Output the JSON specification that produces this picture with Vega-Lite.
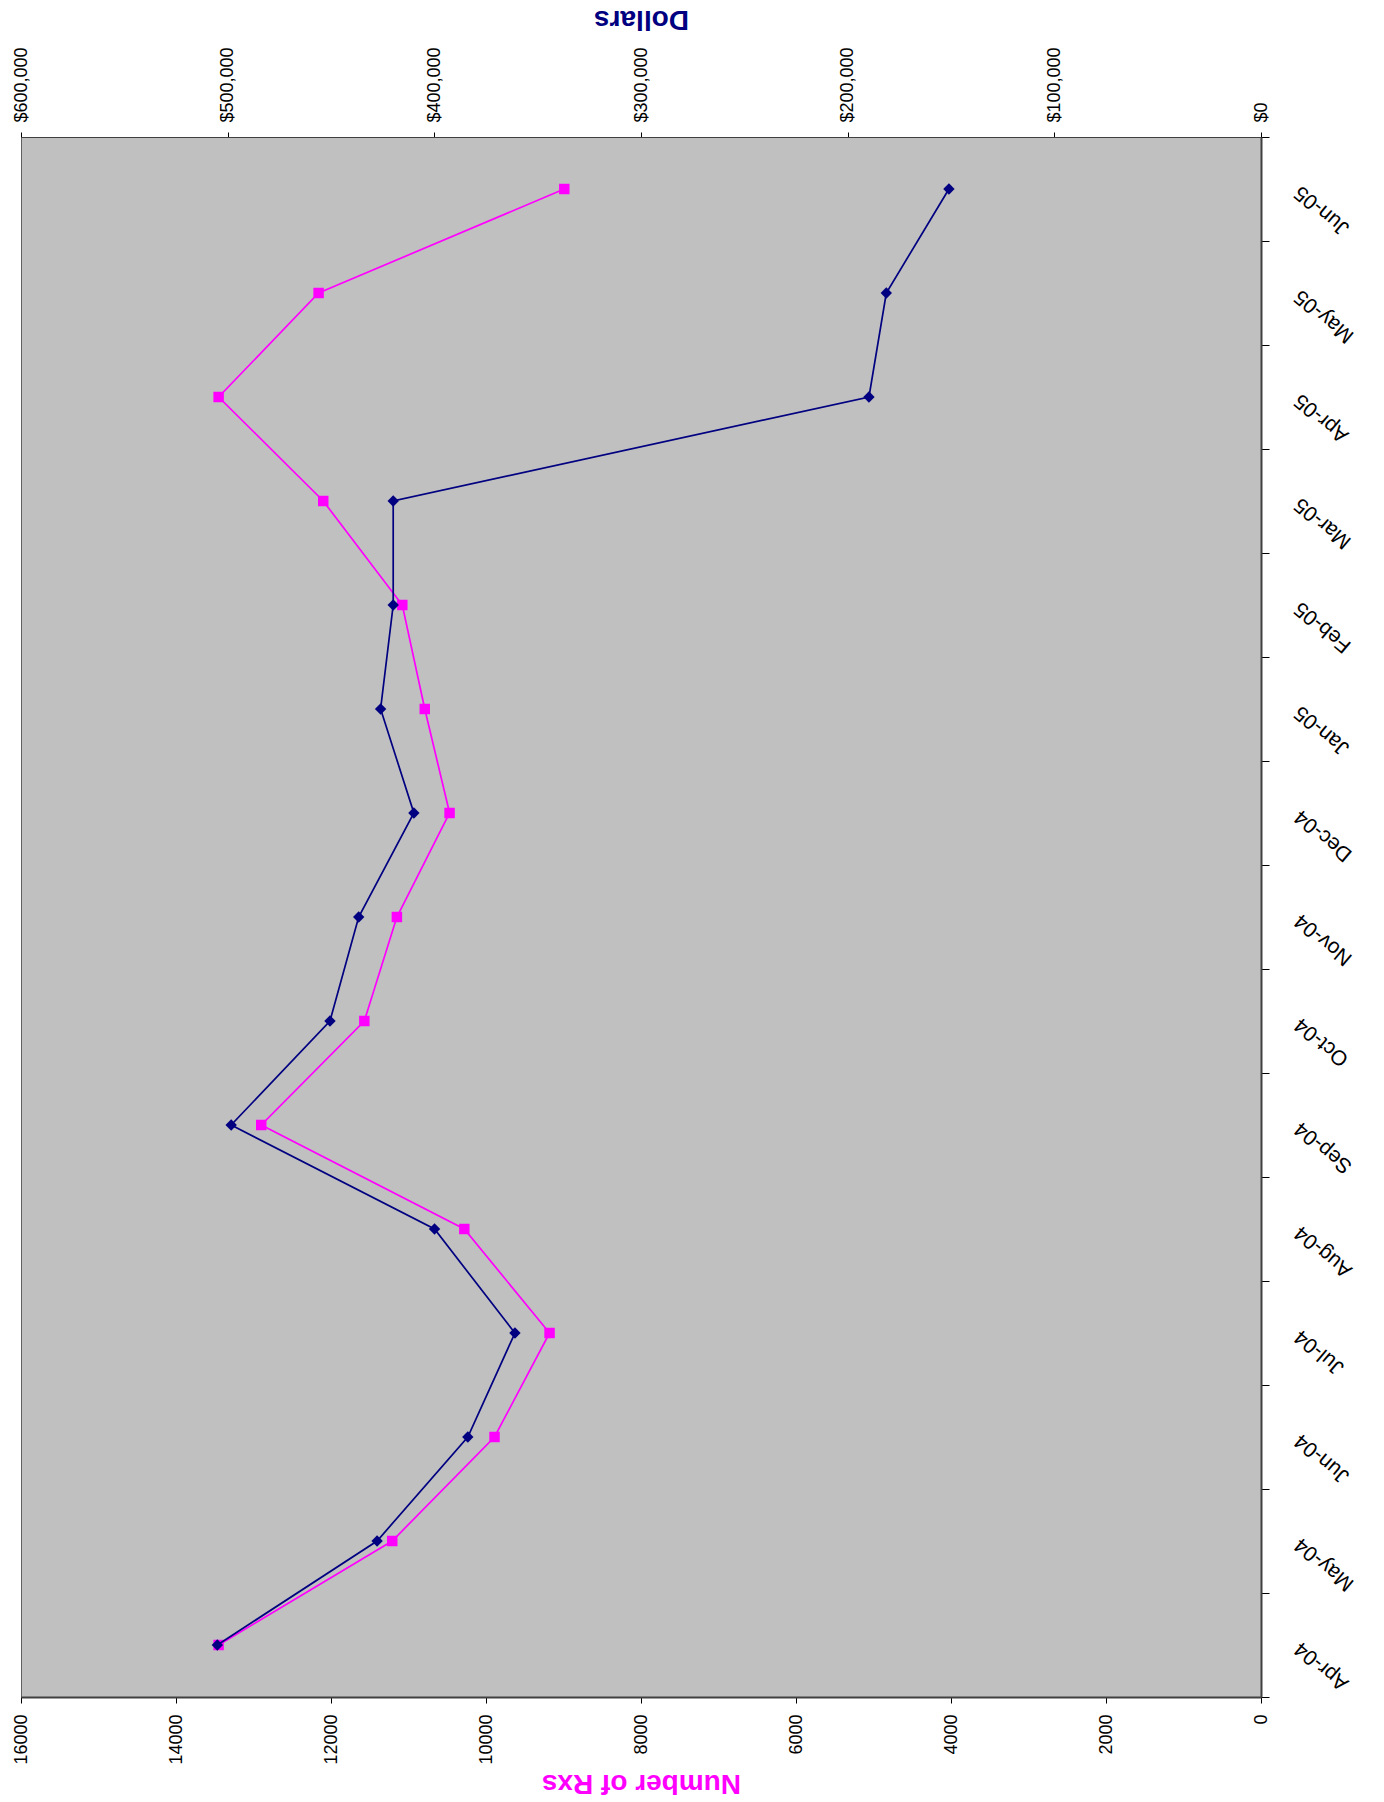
{
  "$schema": "https://vega.github.io/schema/vega-lite/v6.json",
  "width": 1240,
  "height": 1560,
  "padding": {"left": 11, "top": 4, "right": 4, "bottom": 2},
  "background": "white",
  "config": {
    "view": {"fill": "#C0C0C0", "stroke": "#606060", "strokeWidth": 1},
    "axis": {
      "labelFont": "Liberation Sans",
      "titleFont": "Liberation Sans",
      "labelColor": "black",
      "tickColor": "black",
      "domainColor": "#404040",
      "domainWidth": 2,
      "grid": false
    }
  },
  "data": {
    "values": [
      {"month": "Apr-04", "rxs": 13450, "dollars": 505000},
      {"month": "May-04", "rxs": 11210, "dollars": 427700},
      {"month": "Jun-04", "rxs": 9890, "dollars": 383800},
      {"month": "Jul-04", "rxs": 9180, "dollars": 361000},
      {"month": "Aug-04", "rxs": 10280, "dollars": 399900},
      {"month": "Sep-04", "rxs": 12900, "dollars": 498300},
      {"month": "Oct-04", "rxs": 11570, "dollars": 450500},
      {"month": "Nov-04", "rxs": 11150, "dollars": 436600},
      {"month": "Dec-04", "rxs": 10470, "dollars": 409900},
      {"month": "Jan-05", "rxs": 10790, "dollars": 426000},
      {"month": "Feb-05", "rxs": 11080, "dollars": 419900},
      {"month": "Mar-05", "rxs": 12100, "dollars": 419900},
      {"month": "Apr-05", "rxs": 13450, "dollars": 189700},
      {"month": "May-05", "rxs": 12160, "dollars": 181300},
      {"month": "Jun-05", "rxs": 8990, "dollars": 151000}
    ]
  },
  "encoding": {
    "y": {
      "field": "month",
      "type": "ordinal",
      "bandPosition": 0.5,
      "sort": ["Jun-05", "May-05", "Apr-05", "Mar-05", "Feb-05", "Jan-05", "Dec-04", "Nov-04", "Oct-04", "Sep-04", "Aug-04", "Jul-04", "Jun-04", "May-04", "Apr-04"],
      "scale": {"type": "band", "paddingInner": 0, "paddingOuter": 0},
      "axis": {
        "orient": "right",
        "title": null,
        "tickBand": "extent",
        "tickSize": 8,
        "labelAngle": 220,
        "labelAlign": "right",
        "labelBaseline": "middle",
        "labelFontSize": 21,
        "labelPadding": 28
      }
    }
  },
  "layer": [
    {
      "mark": {"type": "line", "color": "#FF00FF", "strokeWidth": 1.7},
      "encoding": {
        "x": {
          "field": "rxs",
          "type": "quantitative",
          "scale": {"domain": [0, 16000], "reverse": true, "nice": false, "zero": true},
          "axis": {
            "orient": "bottom",
            "values": [0, 2000, 4000, 6000, 8000, 10000, 12000, 14000, 16000],
            "format": "d",
            "labelAngle": 270,
            "labelFontSize": 18,
            "tickSize": 6,
            "labelPadding": 11,
            "title": "Number of Rxs",
            "titleColor": "#FF00FF",
            "titleFontWeight": "bold",
            "titleFontSize": 28,
            "titleAngle": 180,
            "titleBaseline": "bottom",
            "titlePadding": 4
          }
        }
      }
    },
    {
      "mark": {"type": "point", "shape": "square", "filled": true, "opacity": 1, "color": "#FF00FF", "size": 110},
      "encoding": {
        "x": {"field": "rxs", "type": "quantitative", "scale": {"domain": [0, 16000], "reverse": true, "nice": false}, "axis": null}
      }
    },
    {
      "mark": {"type": "line", "color": "#000080", "strokeWidth": 1.7},
      "encoding": {
        "x": {
          "field": "dollars",
          "type": "quantitative",
          "scale": {"domain": [0, 600000], "reverse": true, "nice": false},
          "axis": {
            "orient": "top",
            "values": [0, 100000, 200000, 300000, 400000, 500000, 600000],
            "format": "$,d",
            "labelAngle": 270,
            "labelFontSize": 18,
            "tickSize": 5,
            "labelPadding": 10,
            "domainWidth": 1,
            "title": "Dollars",
            "titleColor": "#000080",
            "titleFontWeight": "bold",
            "titleFontSize": 28,
            "titleAngle": 180,
            "titleBaseline": "top",
            "titlePadding": 14
          }
        }
      }
    },
    {
      "mark": {"type": "point", "shape": "diamond", "filled": true, "opacity": 1, "color": "#000080", "size": 130},
      "encoding": {
        "x": {"field": "dollars", "type": "quantitative", "scale": {"domain": [0, 600000], "reverse": true, "nice": false}, "axis": null}
      }
    }
  ],
  "resolve": {"scale": {"x": "independent"}, "axis": {"x": "independent"}}
}
